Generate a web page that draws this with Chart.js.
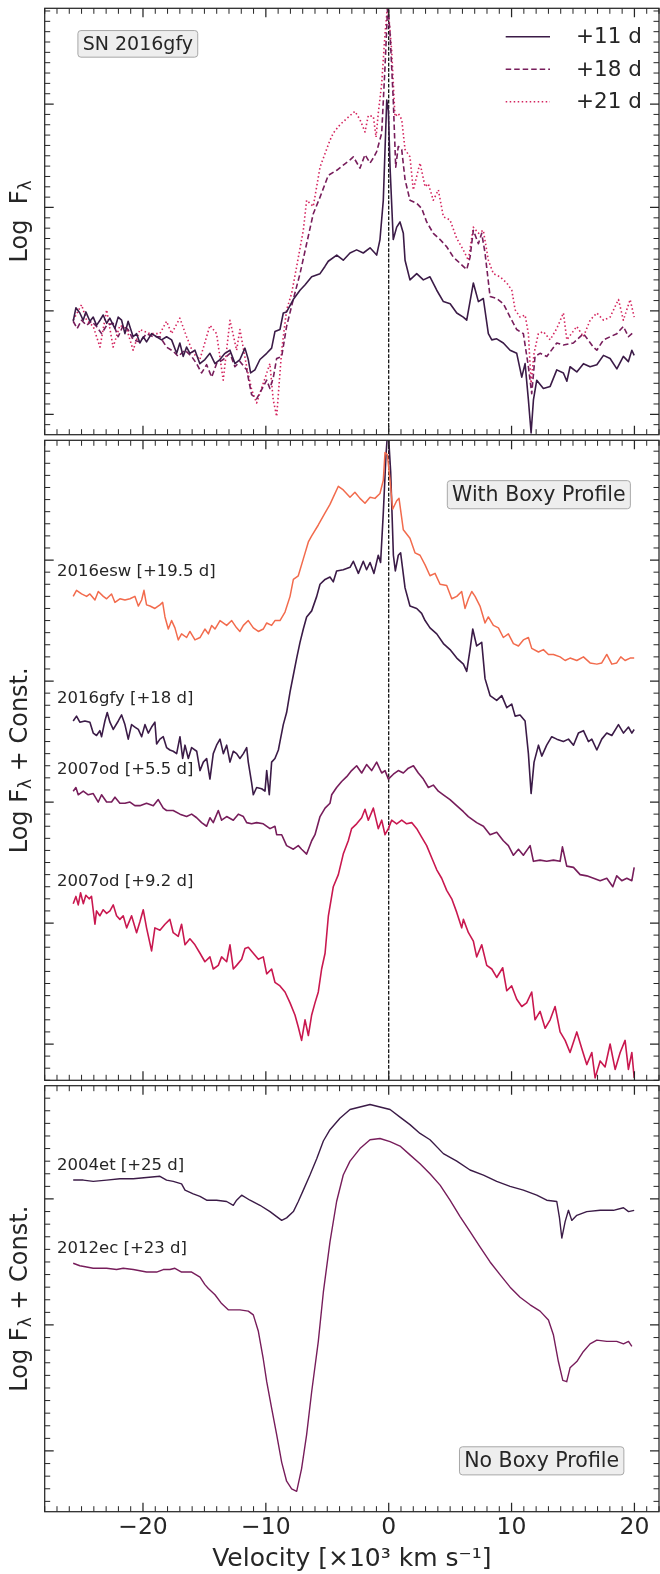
<!DOCTYPE html>
<html>
<head>
<meta charset="utf-8">
<script src="https://cdn.jsdelivr.net/npm/chart.js@4.4.0/dist/chart.umd.min.js"></script>
<style>
  html, body { margin: 0; padding: 0; background: #fff; }
  #wrap { position: relative; width: 660px; height: 1574px; }
  #wrap canvas { position: absolute; left: 0; }
</style>
</head>
<body>
<div id="wrap">
  <canvas id="top" width="660" height="437" style="top:0px"></canvas>
  <canvas id="boxy" width="660" height="646" style="top:437px"></canvas>
  <canvas id="noboxy" width="660" height="491" style="top:1083px"></canvas>
</div>
<script>
// velocity in 10^3 km/s, flux in log units (arbitrary offsets)
const velocityRange = [-28, 22];
const xMajorTicks = [-20, -10, 0, 10, 20];
const topFluxRange = [-0.197, 3.926];
const boxyFluxRange = [-0.30, 4.99];
const noBoxyFluxRange = [-0.482, 2.899];

// SN 2016gfy, top panel
const vel11 = [-25.68,-25.46,-25.14,-24.87,-24.65,-24.32,-24.05,-23.78,-23.50,-23.24,-22.96,-22.70,-22.29,-22.02,-21.74,-21.47,-21.21,-20.80,-20.52,-20.25,-19.98,-19.71,-19.30,-18.89,-18.49,-18.08,-17.67,-17.26,-17.00,-16.73,-16.45,-16.18,-15.77,-15.37,-14.96,-14.55,-14.14,-13.74,-13.33,-12.92,-12.51,-12.11,-11.70,-11.43,-11.24,-10.89,-10.48,-9.93,-9.53,-9.26,-8.85,-8.58,-8.31,-7.77,-7.22,-6.82,-6.27,-5.59,-5.19,-4.92,-4.23,-3.70,-3.15,-2.61,-2.07,-1.52,-0.98,-0.71,-0.44,-0.30,-0.16,-0.03,0.11,0.37,0.65,0.92,1.19,1.33,1.73,2.28,2.82,3.36,3.91,4.45,5.00,5.54,6.07,6.35,6.89,7.30,7.70,8.11,8.39,8.79,9.33,9.88,10.42,10.83,11.10,11.37,11.59,11.78,12.05,12.59,13.14,13.68,14.22,14.50,14.76,15.31,15.85,16.39,16.94,17.48,18.02,18.57,19.10,19.51,19.79,19.98];
const flux11 = [0.90,1.03,0.98,0.91,0.99,0.90,0.94,0.86,0.91,0.96,0.88,0.93,0.83,0.94,0.91,0.78,0.90,0.75,0.78,0.69,0.75,0.70,0.78,0.75,0.72,0.75,0.72,0.59,0.69,0.56,0.65,0.59,0.62,0.49,0.53,0.59,0.49,0.53,0.59,0.62,0.49,0.53,0.64,0.53,0.40,0.43,0.53,0.59,0.64,0.80,0.82,0.98,0.99,1.11,1.20,1.25,1.33,1.36,1.43,1.48,1.54,1.49,1.56,1.59,1.56,1.61,1.54,1.69,2.07,2.56,3.04,2.94,2.39,1.69,1.81,1.86,1.75,1.49,1.30,1.36,1.30,1.33,1.20,1.09,1.07,0.98,0.94,0.91,1.27,1.09,1.12,0.78,0.72,0.73,0.69,0.62,0.59,0.36,0.49,0.14,-0.18,0.14,0.33,0.25,0.27,0.43,0.40,0.32,0.46,0.41,0.49,0.46,0.48,0.57,0.54,0.44,0.56,0.51,0.62,0.57];

const vel18 = [-25.68,-25.36,-25.00,-24.59,-24.19,-23.78,-23.37,-22.96,-22.43,-22.02,-21.61,-21.21,-20.80,-20.25,-19.71,-19.17,-18.62,-18.08,-17.54,-17.13,-16.59,-16.04,-15.64,-15.23,-14.82,-14.41,-14.01,-13.47,-12.92,-12.52,-12.11,-11.56,-11.16,-10.75,-10.34,-9.93,-9.67,-9.40,-9.12,-8.71,-8.31,-7.77,-7.22,-6.68,-6.14,-5.59,-4.92,-4.23,-3.70,-3.15,-2.88,-2.34,-1.93,-1.52,-1.25,-0.98,-0.57,-0.30,-0.08,0.11,0.37,0.57,0.78,1.06,1.33,1.73,2.28,2.69,3.09,3.63,4.18,4.72,5.26,5.81,6.35,6.62,6.89,7.30,7.57,7.84,8.25,8.79,9.33,9.88,10.42,10.96,11.37,11.64,11.91,12.32,12.87,13.68,14.22,15.03,15.85,16.66,16.94,17.48,18.02,18.57,19.10,19.51,19.98];
const flux18 = [0.90,0.83,0.91,0.86,0.90,0.85,0.78,0.86,0.88,0.75,0.86,0.82,0.72,0.70,0.78,0.75,0.75,0.65,0.61,0.56,0.62,0.56,0.49,0.40,0.48,0.36,0.49,0.53,0.59,0.46,0.51,0.43,0.19,0.15,0.24,0.33,0.25,0.35,0.54,0.56,0.85,1.11,1.36,1.65,1.94,2.10,2.31,2.36,2.41,2.46,2.49,2.38,2.51,2.43,2.48,2.54,2.72,3.36,3.96,3.68,3.04,2.39,2.59,2.56,2.27,2.07,2.04,1.99,1.86,1.75,1.69,1.62,1.52,1.46,1.40,1.52,1.78,1.65,1.75,1.56,1.14,1.12,1.07,0.94,0.82,0.78,0.46,0.20,0.56,0.59,0.56,0.69,0.67,0.69,0.78,0.65,0.62,0.72,0.75,0.78,0.85,0.75,0.80];

const vel21 = [-25.68,-25.00,-24.59,-24.05,-23.50,-22.96,-22.43,-21.88,-21.34,-20.80,-20.25,-19.44,-18.62,-18.08,-17.67,-17.00,-16.45,-15.91,-15.37,-14.55,-14.01,-13.47,-12.92,-12.38,-12.11,-11.56,-11.16,-10.75,-10.21,-9.67,-9.40,-9.12,-8.71,-8.31,-7.90,-7.49,-6.95,-6.68,-6.14,-5.59,-4.78,-4.51,-3.97,-3.42,-2.75,-2.34,-1.93,-1.66,-1.25,-1.03,-0.85,-0.57,-0.30,-0.08,0.24,0.51,0.78,1.06,1.33,1.73,2.00,2.55,2.96,3.22,3.63,4.04,4.45,4.99,5.54,6.07,6.48,6.89,7.30,7.70,8.11,8.52,9.06,9.61,10.02,10.29,10.69,11.10,11.37,11.59,11.83,12.18,12.59,13.14,13.68,14.22,14.50,15.31,15.85,16.39,16.94,17.48,18.02,18.70,19.10,19.65,19.98];
const flux21 = [0.91,1.06,0.91,0.85,0.65,1.01,0.65,0.86,0.83,0.62,0.82,0.78,0.78,0.90,0.78,0.93,0.75,0.59,0.53,0.86,0.78,0.33,0.91,0.62,0.82,0.46,0.24,0.11,0.30,0.49,0.14,-0.02,0.62,1.01,1.17,1.43,1.78,2.07,2.01,2.39,2.65,2.72,2.80,2.86,2.93,2.85,2.73,2.89,2.88,2.68,2.91,3.20,3.68,3.97,3.52,2.88,2.91,2.85,2.56,2.49,2.17,2.43,2.20,2.23,2.07,2.17,1.91,1.88,1.70,1.59,1.49,1.81,1.75,1.78,1.49,1.36,1.33,1.27,1.20,1.01,0.94,0.96,0.78,0.30,0.59,0.78,0.80,0.72,0.83,0.98,0.72,0.85,0.75,0.91,0.98,0.91,0.94,1.11,0.91,1.11,0.94];

// with boxy profile
const velEsw = [-25.68,-25.41,-25.00,-24.59,-24.32,-23.91,-23.64,-23.23,-22.96,-22.56,-22.28,-21.88,-21.47,-21.06,-20.66,-20.38,-20.11,-19.92,-19.71,-19.43,-19.03,-18.62,-18.40,-18.21,-17.94,-17.67,-17.40,-17.13,-16.86,-16.45,-16.18,-15.77,-15.36,-14.96,-14.68,-14.41,-14.14,-13.73,-13.19,-12.78,-12.38,-12.11,-11.83,-11.43,-11.02,-10.61,-10.21,-9.93,-9.53,-9.26,-8.85,-8.44,-8.03,-7.76,-7.36,-6.95,-6.54,-6.27,-5.73,-5.18,-4.78,-4.51,-4.10,-3.70,-3.15,-2.75,-2.34,-1.93,-1.52,-1.12,-0.71,-0.44,-0.30,-0.11,0.11,0.32,0.65,0.84,1.19,1.73,2.14,2.55,2.96,3.36,3.77,4.18,4.72,5.13,5.54,5.94,6.21,6.49,6.76,7.03,7.43,7.84,8.11,8.52,8.93,9.33,9.74,10.15,10.56,10.96,11.37,11.64,12.19,12.59,13.00,13.41,13.95,14.36,14.76,15.31,15.85,16.39,16.94,17.34,17.75,18.16,18.56,18.89,19.24,19.65,19.98];
const fluxEsw = [3.70,3.75,3.72,3.70,3.72,3.67,3.74,3.70,3.68,3.72,3.65,3.68,3.67,3.68,3.70,3.62,3.67,3.75,3.63,3.62,3.60,3.63,3.65,3.53,3.43,3.50,3.44,3.34,3.39,3.36,3.41,3.34,3.36,3.43,3.39,3.46,3.43,3.50,3.46,3.50,3.44,3.41,3.46,3.50,3.44,3.41,3.43,3.48,3.46,3.50,3.50,3.57,3.70,3.84,3.87,4.01,4.15,4.20,4.29,4.39,4.46,4.52,4.61,4.58,4.52,4.56,4.51,4.47,4.52,4.51,4.55,4.66,4.89,4.87,4.66,4.42,4.49,4.51,4.25,4.18,4.06,4.04,3.96,3.87,3.89,3.80,3.79,3.68,3.70,3.74,3.60,3.68,3.74,3.70,3.62,3.48,3.53,3.46,3.44,3.36,3.39,3.31,3.29,3.34,3.36,3.27,3.24,3.26,3.22,3.22,3.20,3.17,3.19,3.17,3.20,3.15,3.14,3.15,3.22,3.14,3.15,3.20,3.17,3.19,3.19];

const velGfy = [-25.68,-25.41,-25.14,-24.73,-24.32,-24.05,-23.78,-23.51,-23.37,-23.10,-22.91,-22.69,-22.42,-22.01,-21.74,-21.47,-21.20,-20.93,-20.66,-20.38,-20.11,-19.84,-19.57,-19.30,-19.03,-18.89,-18.62,-18.35,-18.08,-17.81,-17.54,-17.26,-16.99,-16.77,-16.58,-16.31,-16.04,-15.63,-15.36,-15.09,-14.82,-14.55,-14.28,-14.01,-13.73,-13.46,-13.19,-12.92,-12.65,-12.38,-12.11,-11.83,-11.56,-11.43,-11.16,-11.02,-10.75,-10.34,-10.07,-9.93,-9.72,-9.53,-9.26,-8.98,-8.85,-8.58,-8.31,-8.03,-7.76,-7.49,-7.22,-6.95,-6.68,-6.27,-5.86,-5.59,-5.18,-4.78,-4.51,-4.24,-3.70,-3.15,-2.88,-2.47,-2.07,-1.80,-1.52,-1.20,-0.85,-0.66,-0.44,-0.22,-0.06,0.16,0.38,0.54,0.78,0.97,1.33,1.73,2.28,2.68,2.96,3.36,3.91,4.45,4.99,5.54,6.08,6.35,6.62,6.84,7.16,7.57,7.84,8.25,8.79,9.20,9.61,10.01,10.29,10.69,11.10,11.37,11.59,11.83,12.19,12.46,12.86,13.27,13.68,14.22,14.63,15.04,15.44,15.85,16.26,16.53,16.94,17.34,17.75,18.16,18.70,19.11,19.52,19.79,19.98];
const fluxGfy = [2.67,2.71,2.66,2.67,2.66,2.57,2.55,2.59,2.54,2.67,2.74,2.66,2.60,2.67,2.72,2.64,2.52,2.64,2.62,2.60,2.54,2.64,2.57,2.62,2.66,2.48,2.52,2.54,2.45,2.43,2.42,2.40,2.54,2.36,2.47,2.36,2.45,2.42,2.26,2.33,2.36,2.19,2.40,2.47,2.52,2.40,2.47,2.33,2.42,2.40,2.36,2.40,2.45,2.33,2.16,2.06,2.12,2.11,2.09,2.26,2.06,2.33,2.36,2.43,2.50,2.64,2.74,2.91,3.05,3.19,3.32,3.43,3.53,3.58,3.70,3.80,3.84,3.86,3.82,3.91,3.92,3.94,3.99,3.89,3.99,3.92,3.98,3.89,4.04,3.98,4.39,4.87,5.10,4.73,4.04,3.91,4.04,4.06,3.77,3.62,3.60,3.56,3.50,3.44,3.39,3.31,3.26,3.19,3.14,3.08,3.26,3.43,3.29,3.32,3.02,2.88,2.84,2.88,2.78,2.81,2.71,2.72,2.67,2.40,2.07,2.33,2.47,2.38,2.47,2.54,2.52,2.50,2.52,2.47,2.57,2.59,2.50,2.52,2.43,2.52,2.57,2.55,2.64,2.57,2.62,2.57,2.60];

const velOd55 = [-25.68,-25.46,-25.27,-24.86,-24.46,-24.05,-23.64,-23.37,-22.96,-22.56,-22.28,-21.88,-21.47,-21.06,-20.66,-20.25,-19.71,-19.16,-18.76,-18.35,-18.08,-17.54,-16.99,-16.45,-16.04,-15.63,-15.23,-14.82,-14.55,-14.28,-13.87,-13.60,-13.19,-12.65,-12.24,-11.83,-11.56,-11.16,-10.75,-10.21,-9.66,-9.26,-9.12,-8.71,-8.31,-7.76,-7.36,-7.09,-6.68,-6.27,-6.00,-5.59,-5.18,-4.78,-4.64,-4.24,-3.83,-3.42,-3.02,-2.61,-2.20,-1.80,-1.39,-0.98,-0.57,-0.30,-0.03,0.38,0.78,1.19,1.60,2.01,2.41,2.82,3.23,3.63,4.04,4.45,4.99,5.53,6.08,6.48,7.16,7.71,8.25,8.79,9.33,9.74,10.15,10.56,10.96,11.51,11.78,12.32,12.86,13.41,13.95,14.14,14.49,15.04,15.58,16.12,16.67,17.21,17.75,18.24,18.56,18.97,19.38,19.79,19.98];
const fluxOd55 = [2.09,2.12,2.06,2.09,2.06,2.07,2.00,2.06,2.00,2.00,2.04,1.99,1.99,2.00,1.97,1.97,1.99,1.97,2.02,1.95,1.93,1.93,1.90,1.88,1.90,1.87,1.83,1.80,1.87,1.83,1.93,1.85,1.88,1.85,1.90,1.88,1.83,1.82,1.83,1.82,1.78,1.80,1.73,1.73,1.64,1.61,1.64,1.61,1.57,1.68,1.73,1.88,1.95,1.99,2.06,2.12,2.17,2.21,2.26,2.30,2.24,2.31,2.26,2.33,2.24,2.26,2.19,2.23,2.26,2.24,2.28,2.30,2.24,2.19,2.12,2.14,2.09,2.06,2.02,1.97,1.92,1.88,1.83,1.80,1.73,1.75,1.68,1.64,1.56,1.61,1.56,1.64,1.51,1.52,1.51,1.52,1.51,1.63,1.47,1.46,1.40,1.39,1.37,1.35,1.37,1.30,1.39,1.35,1.37,1.35,1.46];

const velOd92 = [-25.68,-25.46,-25.27,-25.08,-24.86,-24.65,-24.38,-24.19,-23.91,-23.78,-23.51,-23.24,-22.96,-22.69,-22.42,-22.15,-21.88,-21.61,-21.33,-20.93,-20.52,-20.25,-19.98,-19.71,-19.30,-19.03,-18.62,-18.21,-17.81,-17.54,-17.13,-16.86,-16.58,-16.18,-15.77,-15.36,-14.96,-14.55,-14.28,-13.87,-13.60,-13.19,-12.92,-12.65,-12.38,-11.97,-11.70,-11.43,-11.02,-10.61,-10.21,-9.93,-9.53,-9.26,-8.85,-8.44,-8.03,-7.63,-7.36,-7.09,-6.81,-6.54,-6.27,-6.00,-5.73,-5.46,-5.18,-4.91,-4.51,-4.10,-3.70,-3.29,-3.02,-2.61,-2.20,-1.93,-1.66,-1.25,-0.85,-0.57,-0.30,-0.03,0.24,0.65,1.06,1.46,1.87,2.28,2.68,3.09,3.50,3.91,4.31,4.72,5.13,5.53,5.94,6.08,6.49,6.89,7.16,7.57,7.98,8.39,8.79,9.28,9.61,10.01,10.42,10.83,11.23,11.64,11.91,12.32,12.73,13.14,13.54,13.95,14.36,14.76,15.31,15.72,16.12,16.53,16.80,17.21,17.61,18.02,18.43,18.84,19.24,19.51,19.79,19.98];
const fluxOd92 = [1.16,1.22,1.15,1.25,1.16,1.23,1.20,1.22,0.99,1.10,1.06,1.11,1.08,1.10,1.15,1.06,1.03,1.06,0.96,1.06,0.92,1.01,1.11,0.96,0.77,0.96,0.94,0.99,1.03,0.92,0.89,0.99,0.82,0.87,0.82,0.75,0.68,0.72,0.62,0.65,0.72,0.68,0.82,0.62,0.65,0.70,0.79,0.80,0.75,0.70,0.72,0.58,0.62,0.51,0.48,0.43,0.34,0.24,0.14,0.03,0.20,0.07,0.24,0.34,0.43,0.62,0.75,1.06,1.30,1.40,1.57,1.68,1.78,1.82,1.87,1.94,1.85,1.95,1.78,1.85,1.73,1.78,1.85,1.82,1.85,1.82,1.83,1.78,1.71,1.64,1.54,1.44,1.37,1.27,1.20,1.09,0.96,1.03,0.92,0.85,0.72,0.82,0.65,0.62,0.55,0.63,0.44,0.48,0.37,0.31,0.34,0.43,0.20,0.27,0.13,0.20,0.31,0.10,0.03,-0.07,0.10,-0.04,-0.17,-0.07,-0.28,-0.14,-0.19,0.00,-0.21,-0.07,0.03,-0.21,-0.07,-0.28];

// no boxy profile
const velEt = [-25.68,-24.86,-24.05,-22.96,-21.88,-20.79,-19.71,-18.62,-18.08,-17.54,-16.86,-16.58,-15.91,-15.36,-14.82,-14.01,-13.19,-12.65,-12.38,-11.97,-11.29,-10.48,-9.66,-9.12,-8.71,-8.31,-7.76,-7.36,-6.95,-6.41,-5.86,-5.32,-4.78,-3.97,-3.15,-2.34,-1.52,-0.71,0.11,0.92,1.73,2.55,3.36,4.45,5.54,6.62,7.71,8.79,9.88,10.96,12.05,12.86,13.68,13.90,14.09,14.36,14.63,14.90,15.31,16.12,17.21,18.29,19.11,19.52,19.98];
const fluxEt = [2.15,2.15,2.14,2.15,2.16,2.16,2.17,2.18,2.15,2.14,2.12,2.07,2.04,2.02,1.99,1.99,1.98,1.95,1.99,2.03,1.99,1.95,1.90,1.86,1.83,1.85,1.90,1.98,2.07,2.19,2.32,2.46,2.55,2.64,2.71,2.73,2.75,2.73,2.71,2.65,2.59,2.52,2.47,2.36,2.30,2.23,2.19,2.14,2.10,2.07,2.03,1.99,1.98,1.85,1.69,1.82,1.91,1.83,1.87,1.90,1.91,1.91,1.93,1.90,1.91];

const velEc = [-25.68,-25.14,-24.59,-24.05,-22.96,-22.15,-21.61,-20.79,-19.71,-18.89,-18.35,-17.81,-17.40,-16.86,-16.04,-15.36,-14.96,-14.68,-14.14,-13.60,-13.06,-12.65,-12.11,-11.43,-11.02,-10.61,-10.21,-9.93,-9.53,-9.12,-8.71,-8.31,-7.90,-7.49,-7.09,-6.68,-6.27,-5.73,-5.32,-4.78,-4.24,-3.70,-3.15,-2.34,-1.52,-0.71,0.11,0.92,1.73,2.55,3.36,4.18,4.99,5.81,6.62,7.43,8.25,9.06,9.88,10.69,11.51,12.32,13.00,13.41,13.81,14.17,14.49,14.76,15.31,15.85,16.39,16.94,17.75,18.56,19.11,19.52,19.79];
const fluxEc = [1.49,1.47,1.46,1.45,1.45,1.44,1.45,1.44,1.42,1.42,1.44,1.44,1.45,1.42,1.42,1.38,1.32,1.29,1.24,1.17,1.12,1.12,1.12,1.11,1.08,0.95,0.73,0.55,0.34,0.13,-0.09,-0.24,-0.30,-0.32,-0.14,0.13,0.47,0.87,1.26,1.66,1.98,2.19,2.30,2.40,2.47,2.48,2.455,2.42,2.35,2.28,2.20,2.11,1.99,1.86,1.74,1.62,1.50,1.40,1.30,1.22,1.16,1.11,1.04,0.92,0.71,0.56,0.55,0.66,0.71,0.79,0.85,0.88,0.87,0.87,0.85,0.87,0.83];

const DARK = '#3b1b47', PLUM = '#771d5b', PINK = '#d4245e', CRIMSON = '#c9184f', CORAL = '#f26b4d';
const INK = '#262626';
const FONT = "'DejaVu Sans', sans-serif";

function points(xs, ys) {
    return xs.map((x, i) => ({x: x, y: ys[i]}));
}

function zeroLine(range) {
    return {
        data: [{x: 0, y: range[0] - 1}, {x: 0, y: range[1] + 1}],
        borderColor: '#000', borderWidth: 1.2, borderDash: [3.7, 1.6], skipLegend: true
    };
}

// text placed on each panel
const panelNotes = {
    top: {
        yTitle: [['Log  F', false], ['λ', true]],
        box: {text: 'SN 2016gfy', fx: 0.1516, fy: 0.0834, size: 19},
        legend: true,
        labels: []
    },
    boxy: {
        yTitle: [['Log F', false], ['λ', true], [' + Const.', false]],
        box: {text: 'With Boxy Profile', fx: 0.8044, fy: 0.085, size: 20.5},
        labels: [
            {text: '2016esw [+19.5 d]', x: -27, y: 3.90},
            {text: '2016gfy [+18 d]', x: -27, y: 2.855},
            {text: '2007od [+5.5 d]', x: -27, y: 2.27},
            {text: '2007od [+9.2 d]', x: -27, y: 1.344}
        ]
    },
    noboxy: {
        yTitle: [['Log F', false], ['λ', true], [' + Const.', false]],
        box: {text: 'No Boxy Profile', fx: 0.809, fy: 0.8806, size: 20.5},
        labels: [
            {text: '2004et [+25 d]', x: -27, y: 2.264},
            {text: '2012ec [+23 d]', x: -27, y: 1.609}
        ]
    }
};

// matplotlib-like frame with inward ticks on all four sides
const frameTicks = {
    id: 'frameTicks',
    afterDatasetsDraw(chart) {
        const {ctx, chartArea: a, scales: {x, y}} = chart;
        const xMinor = [], yAll = [];
        for (let v = Math.ceil(x.min); v <= x.max; v++) xMinor.push(v);
        for (let k = Math.ceil(y.min * 10); k <= Math.floor(y.max * 10); k++) yAll.push(k / 10);
        const yMajor = yAll.filter(v => Math.abs(v - Math.round(v)) < 1e-6);
        const yMinor = yAll.filter(v => Math.abs(v - Math.round(v)) >= 1e-6);
        ctx.save();
        ctx.strokeStyle = INK;
        const xt = (vals, len, w) => {
            ctx.lineWidth = w;
            ctx.beginPath();
            vals.forEach(v => {
                const p = x.getPixelForValue(v);
                ctx.moveTo(p, a.bottom); ctx.lineTo(p, a.bottom - len);
                ctx.moveTo(p, a.top); ctx.lineTo(p, a.top + len);
            });
            ctx.stroke();
        };
        const yt = (vals, len, w) => {
            ctx.lineWidth = w;
            ctx.beginPath();
            vals.forEach(v => {
                const p = y.getPixelForValue(v);
                ctx.moveTo(a.left, p); ctx.lineTo(a.left + len, p);
                ctx.moveTo(a.right, p); ctx.lineTo(a.right - len, p);
            });
            ctx.stroke();
        };
        xt(xMinor.filter(v => v % 10 !== 0), 5.5, 1);
        xt(xMajorTicks, 9, 1.25);
        yt(yMinor, 5.5, 1);
        yt(yMajor, 9, 1.25);
        ctx.lineWidth = 1.25;
        ctx.strokeRect(a.left, a.top, a.right - a.left, a.bottom - a.top);
        ctx.restore();
    }
};

const panelText = {
    id: 'panelText',
    afterDraw(chart) {
        const notes = panelNotes[chart.canvas.id];
        const {ctx, chartArea: a, scales: {x, y}} = chart;
        ctx.save();
        ctx.fillStyle = INK;
        ctx.textBaseline = 'middle';

        // y title with subscript lambda
        const big = '24px ' + FONT, small = '17px ' + FONT;
        let total = 0;
        notes.yTitle.forEach(([t, sub]) => { ctx.font = sub ? small : big; total += ctx.measureText(t).width; });
        ctx.save();
        ctx.translate(21, (a.top + a.bottom) / 2);
        ctx.rotate(-Math.PI / 2);
        let cx = -total / 2;
        ctx.textAlign = 'left';
        notes.yTitle.forEach(([t, sub]) => {
            ctx.font = sub ? small : big;
            ctx.fillText(t, cx, sub ? 5.5 : 0);
            cx += ctx.measureText(t).width;
        });
        ctx.restore();

        // spectrum labels
        ctx.font = '16.5px ' + FONT;
        ctx.textAlign = 'left';
        notes.labels.forEach(l => ctx.fillText(l.text, x.getPixelForValue(l.x), y.getPixelForValue(l.y)));

        // boxed annotation
        const b = notes.box;
        ctx.font = b.size + 'px ' + FONT;
        const w = ctx.measureText(b.text).width + 9.5;
        const h = b.size + 7.6;
        const bx = a.left + b.fx * (a.right - a.left), by = a.top + b.fy * (a.bottom - a.top);
        ctx.beginPath();
        ctx.roundRect(bx - w / 2, by - h / 2, w, h, 3);
        ctx.fillStyle = '#eeeeee';
        ctx.fill();
        ctx.strokeStyle = '#a8a8a8';
        ctx.lineWidth = 1;
        ctx.stroke();
        ctx.fillStyle = INK;
        ctx.textAlign = 'center';
        ctx.fillText(b.text, bx, by + 1);

        // legend, drawn from the datasets
        if (notes.legend) {
            ctx.textAlign = 'left';
            ctx.font = '21.5px ' + FONT;
            let row = 0;
            chart.data.datasets.forEach(ds => {
                if (ds.skipLegend) return;
                const ly = a.top + 28.4 + row * 32.5;
                ctx.save();
                ctx.strokeStyle = ds.borderColor;
                ctx.lineWidth = ds.borderWidth;
                ctx.setLineDash(ds.borderDash || []);
                ctx.beginPath();
                ctx.moveTo(a.right - 153.3, ly);
                ctx.lineTo(a.right - 109, ly);
                ctx.stroke();
                ctx.restore();
                ctx.fillStyle = INK;
                ctx.fillText(ds.label, a.right - 83, ly + 1);
                row++;
            });
        }
        ctx.restore();
    }
};

function makeChart(id, datasets, range, padding, showX) {
    const xScale = {
        type: 'linear', min: velocityRange[0], max: velocityRange[1], display: false
    };
    if (showX) {
        Object.assign(xScale, {
            display: true,
            grid: {display: false, drawTicks: false},
            border: {display: false},
            ticks: {
                color: INK, font: {family: FONT, size: 23.5}, padding: 2,
                maxRotation: 0, autoSkip: false,
                callback: v => (v < 0 ? '\u2212' + Math.abs(v) : String(v))
            },
            title: {
                display: true, text: 'Velocity [×10³ km s⁻¹]', color: INK,
                font: {family: FONT, size: 25}, padding: {top: 0, bottom: 0}
            },
            afterBuildTicks: s => { s.ticks = xMajorTicks.map(v => ({value: v})); },
            afterFit: s => { s.height = 62.3; }
        });
    }
    return new Chart(document.getElementById(id), {
        type: 'line',
        data: {datasets: datasets},
        options: {
            responsive: false,
            animation: false,
            events: [],
            layout: {padding: padding},
            elements: {
                point: {radius: 0},
                line: {tension: 0, borderJoinStyle: 'round', borderCapStyle: 'butt'}
            },
            datasets: {line: {clip: 0}},
            scales: {
                x: xScale,
                y: {type: 'linear', min: range[0], max: range[1], display: false}
            },
            plugins: {legend: {display: false}, tooltip: {enabled: false}}
        },
        plugins: [frameTicks, panelText]
    });
}

makeChart('top', [
    {label: '+11 d', data: points(vel11, flux11), borderColor: DARK, borderWidth: 1.6},
    {label: '+18 d', data: points(vel18, flux18), borderColor: PLUM, borderWidth: 1.6, borderDash: [5.5, 3]},
    {label: '+21 d', data: points(vel21, flux21), borderColor: PINK, borderWidth: 1.6, borderDash: [1.5, 2.5]},
    zeroLine(topFluxRange)
], topFluxRange, {left: 44.7, right: 1, top: 8.3, bottom: 2.3}, false);

makeChart('boxy', [
    {label: '2016esw', data: points(velEsw, fluxEsw), borderColor: CORAL, borderWidth: 1.5},
    {label: '2016gfy', data: points(velGfy, fluxGfy), borderColor: DARK, borderWidth: 1.6},
    {label: '2007od +5.5', data: points(velOd55, fluxOd55), borderColor: PLUM, borderWidth: 1.6},
    {label: '2007od +9.2', data: points(velOd92, fluxOd92), borderColor: CRIMSON, borderWidth: 1.6},
    zeroLine(boxyFluxRange)
], boxyFluxRange, {left: 44.7, right: 1, top: 3.3, bottom: 2.7}, false);

makeChart('noboxy', [
    {label: '2004et', data: points(velEt, fluxEt), borderColor: DARK, borderWidth: 1.4},
    {label: '2012ec', data: points(velEc, fluxEc), borderColor: PLUM, borderWidth: 1.4}
], noBoxyFluxRange, {left: 44.7, right: 1, top: 2.7, bottom: 0}, true);
</script>
</body>
</html>
